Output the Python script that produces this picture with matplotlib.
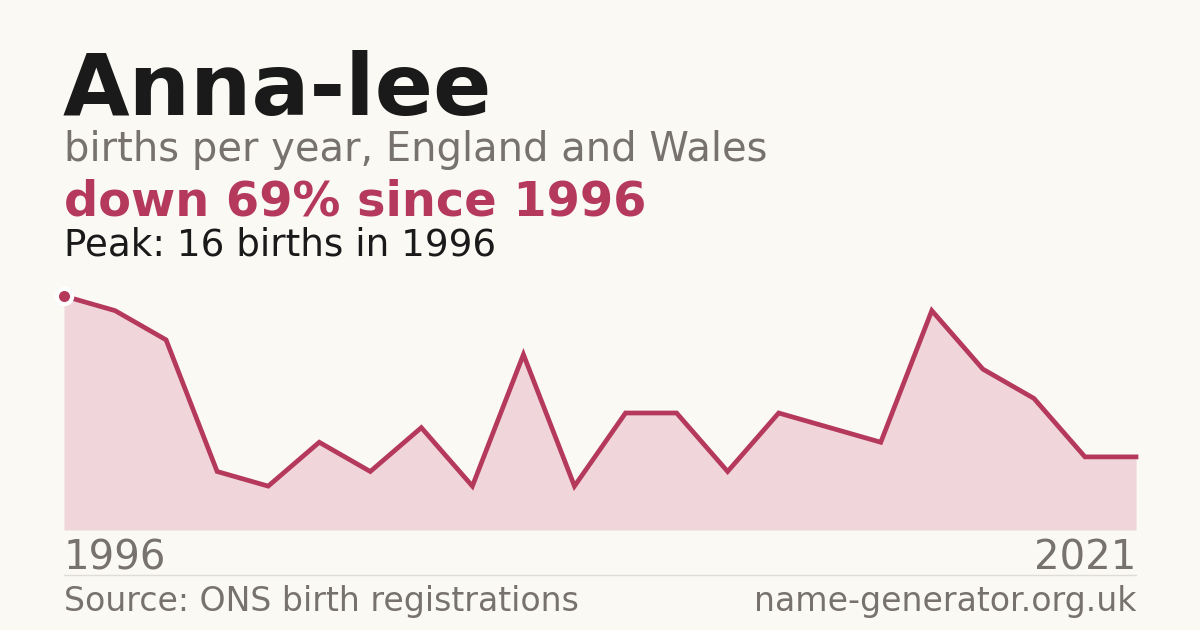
import matplotlib
matplotlib.use('Agg')
import matplotlib.pyplot as plt
from matplotlib.lines import Line2D

# births per year (22 reported points, 1996 -> 2021)
births = [16, 15, 13, 4, 3, 6, 4, 7, 3, 12, 3, 8, 8, 4, 8, 7, 6, 15, 11, 9, 5, 5]
first_year = '1996'
last_year = '2021'
name = 'Anna-lee'

red = '#b5395a'
bg = '#faf9f4'
grey = '#77736c'

W, H = 1200, 630
fig = plt.figure(figsize=(12, 6.3), dpi=100, facecolor=bg)

def fx(px):
    return px / W

def fy(py):
    return 1 - py / H

ax = fig.add_axes([fx(64), fy(530), fx(1136) - fx(64), fy(296) - fy(530)])
ax.set_facecolor(bg)
xs = list(range(len(births)))
ax.fill_between(xs, births, 0, color='#f0d5da', lw=0)
ax.plot(xs, births, color=red, lw=3.4, solid_joinstyle='miter', clip_on=False)
ax.plot([xs[0]], [births[0]], 'o', ms=11, color=red, mec='white', mew=3, clip_on=False, zorder=5)
ax.set_xlim(0, len(births) - 1)
ax.set_ylim(0, max(births))
ax.axis('off')

fig.text(fx(63), fy(115), name, fontsize=62, fontweight='bold', color='#1a1a1a', va='baseline')
fig.text(fx(64), fy(161), 'births per year, England and Wales', fontsize=28.8, color=grey, va='baseline')
fig.text(fx(64), fy(215), 'down 69% since 1996', fontsize=34.5, fontweight='bold', color=red, va='baseline')
fig.text(fx(64), fy(255), 'Peak: 16 births in 1996', fontsize=26.8, color='#1a1a1a', va='baseline')

fig.text(fx(64), fy(570), first_year, fontsize=28.9, color=grey, va='baseline')
fig.text(fx(1136), fy(570), last_year, fontsize=28.9, color=grey, va='baseline', ha='right')
fig.add_artist(Line2D([fx(64), fx(1136)], [fy(575), fy(575)], color='#e0ddd6', lw=1))
fig.text(fx(64), fy(611), 'Source: ONS birth registrations', fontsize=23.9, color=grey, va='baseline')
fig.text(fx(1136), fy(611), 'name-generator.org.uk', fontsize=23.9, color=grey, va='baseline', ha='right')

fig.savefig('out.png', dpi=100, facecolor=bg)
